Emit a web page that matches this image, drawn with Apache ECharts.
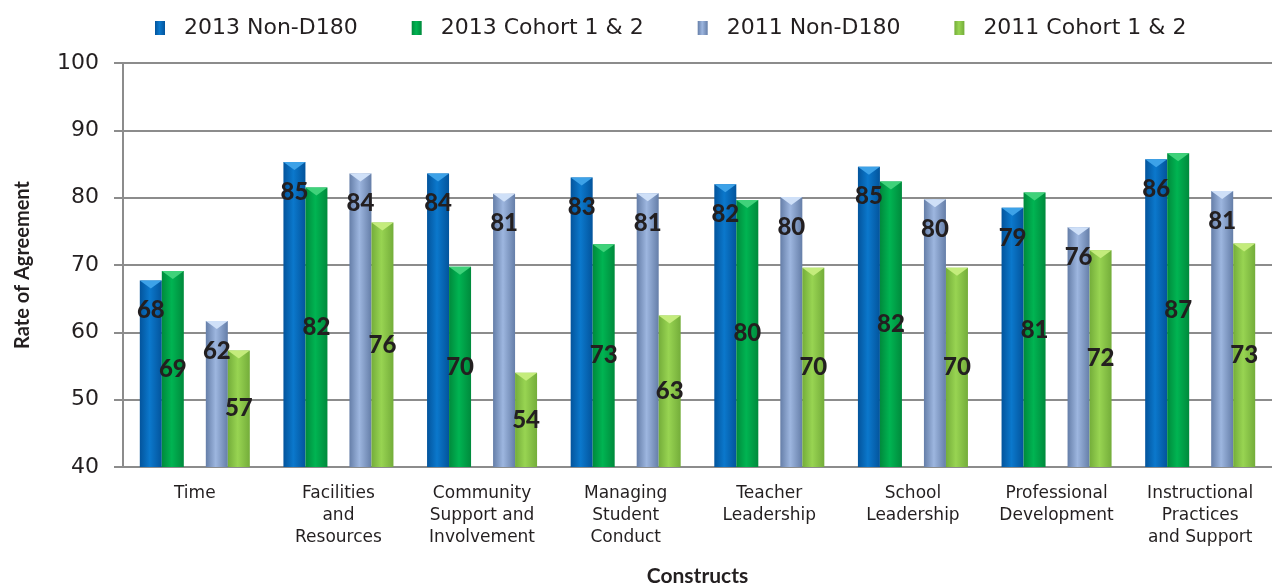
<!DOCTYPE html>
<html>
<head>
<meta charset="utf-8">
<script src="https://cdn.jsdelivr.net/npm/echarts@6/dist/echarts.min.js"></script>
<style>
  html, body { margin: 0; padding: 0; background: #fff; }
  #chart { width: 1272px; height: 587px; }
</style>
</head>
<body>
<div id="chart"></div>
<script>
const categories = [
  'Time',
  'Facilities\nand\nResources',
  'Community\nSupport and\nInvolvement',
  'Managing\nStudent\nConduct',
  'Teacher\nLeadership',
  'School\nLeadership',
  'Professional\nDevelopment',
  'Instructional\nPractices\nand Support'
]

const nonD180_2013 = [67.7, 85.3, 83.6, 83.0, 82.0, 84.6, 78.5, 85.7]
const cohort_2013 = [69.1, 81.5, 69.75, 73.1, 79.65, 82.4, 80.75, 86.6]
const nonD180_2011 = [61.7, 83.6, 80.6, 80.65, 80.1, 79.75, 75.6, 81.0]
const cohort_2011 = [57.3, 76.3, 54.0, 62.5, 69.6, 69.6, 72.2, 73.2]

const yTicks = [40, 50, 60, 70, 80, 90, 100]

const FONT = '"DejaVu Sans", sans-serif'
const BOLD = 'Lato, "DejaVu Sans", sans-serif'

// cylinder-ish look: darker at the edges, lighter in the middle
function shade(edge, mid) {
  return new echarts.graphic.LinearGradient(0, 0, 1, 0, [
    { offset: 0, color: edge },
    { offset: 0.45, color: mid },
    { offset: 1, color: edge }
  ])
}

const labelTop = {
  show: true,
  position: 'insideTop',
  distance: 18,
  color: '#231f20',
  fontFamily: BOLD,
  fontWeight: 900,
  fontSize: 24,
  formatter: p => Math.round(p.value)
}

const labelMid = Object.assign({}, labelTop, { position: 'inside' })

function barSeries(name, data, edge, mid, cap, label) {
  return {
    name: name,
    type: 'bar',
    data: data,
    barGap: '0%',
    barCategoryGap: '23.4%',
    itemStyle: { color: shade(edge, mid) },
    label: label,
    // small bevel on top of each bar
    markPoint: {
      silent: true,
      symbol: 'path://M0,0L10,0L5,4Z',
      symbolSize: [22, 8],
      symbolOffset: [0, 4],
      itemStyle: { color: cap },
      label: { show: false },
      data: data.map((v, i) => ({ coord: [i, v] }))
    }
  }
}

const chart = echarts.init(document.getElementById('chart'))

chart.setOption({
  animation: false,
  legend: {
    data: ['2013 Non-D180', '2013 Cohort 1 & 2', '2011 Non-D180', '2011 Cohort 1 & 2'],
    top: 12,
    left: 150,
    icon: 'rect',
    itemWidth: 10,
    itemHeight: 14,
    itemGap: 54,
    formatter: name => '  ' + name,
    textStyle: { fontFamily: FONT, fontSize: 22, color: '#231f20' }
  },
  grid: {
    left: 123,
    right: 0,
    top: 63,
    bottom: 120,
    outerBoundsMode: 'none'
  },
  xAxis: {
    type: 'category',
    data: categories,
    name: 'Constructs',
    nameLocation: 'middle',
    nameGap: 99,
    nameTextStyle: { fontFamily: BOLD, fontWeight: 'bold', fontSize: 21, color: '#231f20' },
    axisLine: { lineStyle: { color: '#8c8c8c', width: 2 } },
    axisTick: { length: 12, lineStyle: { color: '#8c8c8c', width: 2 } },
    axisLabel: {
      fontFamily: FONT,
      fontSize: 17,
      lineHeight: 22,
      color: '#231f20',
      margin: 16,
      interval: 0
    }
  },
  yAxis: {
    type: 'value',
    min: yTicks[0],
    max: yTicks[yTicks.length - 1],
    interval: 10,
    name: 'Rate of Agreement',
    nameLocation: 'middle',
    nameGap: 90,
    nameTextStyle: { fontFamily: BOLD, fontWeight: 'bold', fontSize: 20, color: '#231f20' },
    axisLine: { show: true, lineStyle: { color: '#8c8c8c', width: 2 } },
    axisTick: { show: true, length: 9, lineStyle: { color: '#8c8c8c', width: 2 } },
    axisLabel: { fontFamily: FONT, fontSize: 22, color: '#231f20', margin: 24 },
    splitLine: { lineStyle: { color: '#8c8c8c', width: 2 } }
  },
  series: [
    barSeries('2013 Non-D180', nonD180_2013, '#03549c', '#0b78cc', '#3da2e8', labelTop),
    barSeries('2013 Cohort 1 & 2', cohort_2013, '#008a3c', '#00b452', '#3fd27a', labelMid),
    // empty spacer, leaves the gap between the 2013 and 2011 pairs
    { name: 'spacer', type: 'bar', data: [], barGap: '0%', barCategoryGap: '23.4%' },
    barSeries('2011 Non-D180', nonD180_2011, '#657ea8', '#9db6df', '#cfe0f8', labelTop),
    barSeries('2011 Cohort 1 & 2', cohort_2011, '#74ad3a', '#98d452', '#c4ec7c', labelMid)
  ]
})
</script>
</body>
</html>
